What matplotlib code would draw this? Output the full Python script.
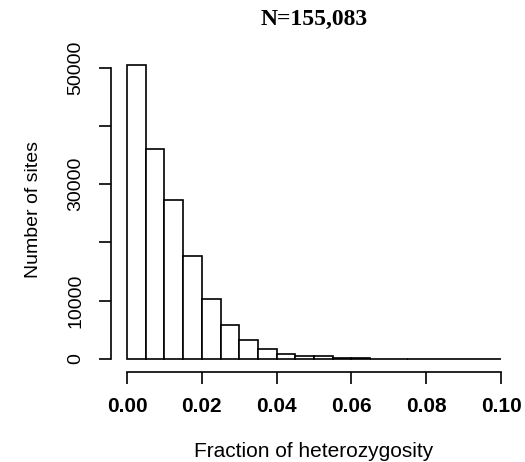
import numpy as np
import matplotlib
matplotlib.use("Agg")
import matplotlib.pyplot as plt

# Histogram of per-site heterozygosity fraction (bin width 0.005)
bin_edges = [round(0.005 * i, 3) for i in range(21)]
counts = [50500, 36000, 27300, 17600, 10300, 5750, 3270, 1670, 810, 520,
          430, 200, 60, 30, 15, 10, 5, 3, 2, 1]
title_text = "N=155,083"
xticks = [0.00, 0.02, 0.04, 0.06, 0.08, 0.10]
xtick_labels = ["0.00", "0.02", "0.04", "0.06", "0.08", "0.10"]
yticks = [0, 10000, 20000, 30000, 40000, 50000]
ytick_labels = ["0", "10000", "", "30000", "", "50000"]

W, H = 525, 462
fig = plt.figure(figsize=(W / 100, H / 100), dpi=100)

# data area in pixels
x0, x1 = 127, 501
y_zero, y_top = 358.7, 67.7          # pixel rows of 0 and 50000
ymax = 51200
px_per = (y_zero - y_top) / 50000
top_px = y_zero - ymax * px_per
ax = fig.add_axes([x0 / W, 1 - y_zero / H, (x1 - x0) / W, (y_zero - top_px) / H])

widths = np.diff(bin_edges)
ax.bar(bin_edges[:-1], counts, width=widths, align="edge",
       facecolor="white", edgecolor="black", linewidth=1.2, clip_on=False)

ax.set_xlim(0, 0.1)
ax.set_ylim(0, ymax)

for s in ["top", "right"]:
    ax.spines[s].set_visible(False)
ax.spines["bottom"].set_position(("outward", 13.3 * 0.72))
ax.spines["left"].set_position(("outward", 16 * 0.72))
ax.spines["bottom"].set_bounds(0, 0.1)
ax.spines["left"].set_bounds(0, 50000)
for s in ["bottom", "left"]:
    ax.spines[s].set_linewidth(1.2)

ax.set_xticks(xticks)
ax.set_xticklabels(xtick_labels, fontfamily="Liberation Sans",
                   fontweight="bold", fontsize=15)
ax.set_yticks(yticks)
ax.set_yticklabels(ytick_labels, fontfamily="Liberation Sans", fontsize=14,
                   rotation=90, va="center")
ax.tick_params(axis="both", length=12 * 0.72, width=1.2, direction="out")
ax.tick_params(axis="x", pad=9)
ax.tick_params(axis="y", pad=10.5)

fig.text((x0 + x1) / 2 / W, 1 - 457 / H, "Fraction of heterozygosity",
         ha="center", va="baseline", fontfamily="Liberation Sans", fontsize=15)
ax.set_ylabel("Number of sites", fontfamily="Liberation Sans", fontsize=14,
              labelpad=18)

fig.text((x0 + x1) / 2 / W, 1 - 19 / H, title_text, ha="center", va="center",
         fontfamily="Liberation Serif", fontweight="bold", fontsize=17)

fig.savefig("out.png", dpi=100)
